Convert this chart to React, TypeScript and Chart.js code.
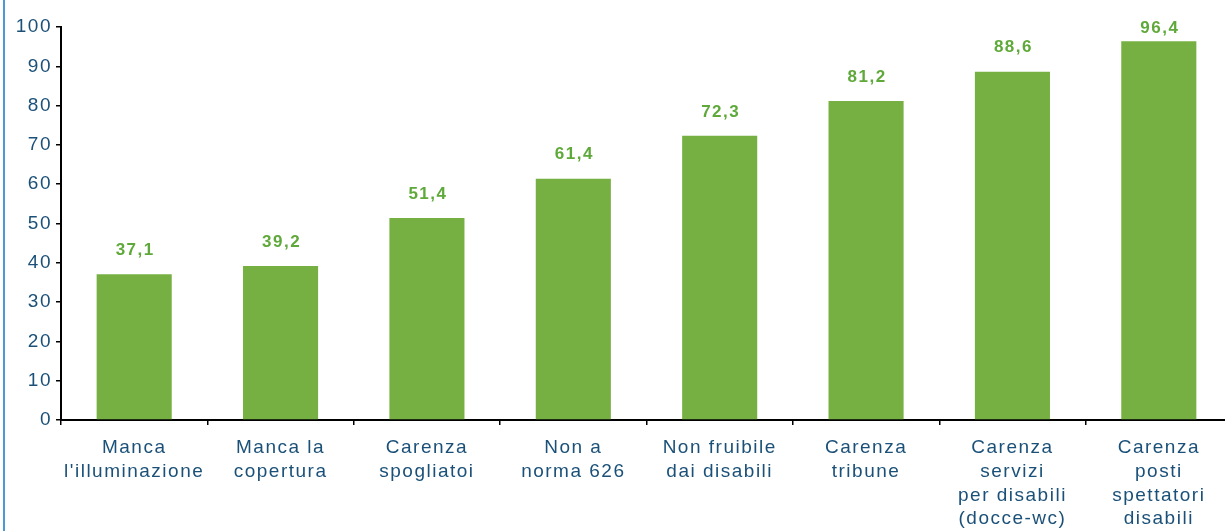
import React, { useEffect, useRef } from "react";
import { Chart, registerables } from "chart.js";

Chart.register(...registerables);

const categories: string[][] = [
  ["Manca", "l'illuminazione"],
  ["Manca la", "copertura"],
  ["Carenza", "spogliatoi"],
  ["Non a", "norma 626"],
  ["Non fruibile", "dai disabili"],
  ["Carenza", "tribune"],
  ["Carenza", "servizi", "per disabili", "(docce-wc)"],
  ["Carenza", "posti", "spettatori", "disabili"],
];
const values: number[] = [37.1, 39.2, 51.4, 61.4, 72.3, 81.2, 88.6, 96.4];
const yTicks: number[] = [0, 10, 20, 30, 40, 50, 60, 70, 80, 90, 100];

const BAR = "#76b043";
const LABEL_GREEN = "#5fa93a";
const TEXT = "#1b5179";
const FONT = "'Liberation Sans', Arial, sans-serif";

const spacingPlugin = {
  id: "spacing",
  beforeDraw(chart: any) {
    chart.ctx.letterSpacing = "1.5px";
  },
};

const valueLabels = {
  id: "valueLabels",
  afterDatasetsDraw(chart: any) {
    const ctx = chart.ctx;
    const meta = chart.getDatasetMeta(0);
    ctx.save();
    ctx.letterSpacing = "1.5px";
    ctx.font = `bold 17px ${FONT}`;
    ctx.fillStyle = LABEL_GREEN;
    ctx.textAlign = "center";
    ctx.textBaseline = "middle";
    meta.data.forEach((bar: any, i: number) => {
      const v = values[i];
      const y = Math.max(28, bar.y - 24);
      ctx.fillText(v.toFixed(1).replace(".", ","), bar.x + 1, y);
    });
    ctx.restore();
  },
};

export default function App() {
  const ref = useRef<HTMLCanvasElement | null>(null);
  useEffect(() => {
    document.body.style.margin = "0";
    const canvas = ref.current!;
    const chart = new Chart(canvas, {
      type: "bar",
      data: {
        labels: categories,
        datasets: [
          {
            data: values,
            backgroundColor: BAR,
            borderWidth: 0,
            barPercentage: 0.513,
            categoryPercentage: 1,
          },
        ],
      },
      options: {
        responsive: false,
        animation: false,
        layout: { padding: { top: 27, right: 0, left: 0, bottom: 0 } },
        plugins: { legend: { display: false }, tooltip: { enabled: false } },
        scales: {
          x: {
            afterFit(scale: any) {
              scale.height = 545 - 420;
            },
            border: { color: "#000", width: 2 },
            grid: {
              drawOnChartArea: false,
              color: "#000",
              lineWidth: 1.5,
              tickLength: 5,
            },
            ticks: {
              color: TEXT,
              font: { family: FONT, size: 19, lineHeight: 1.25 },
              padding: 11,
              maxRotation: 0,
              autoSkip: false,
            },
          },
          y: {
            min: 0,
            max: 100,
            afterFit(scale: any) {
              scale.width = 61;
            },
            afterBuildTicks(scale: any) {
              scale.ticks = yTicks.map((v) => ({ value: v }));
            },
            border: { color: "#000", width: 2 },
            grid: {
              drawOnChartArea: false,
              color: "#000",
              lineWidth: 1.5,
              tickLength: 5,
            },
            ticks: {
              color: TEXT,
              font: { family: FONT, size: 19 },
              padding: 4,
            },
          },
        },
      },
      plugins: [spacingPlugin, valueLabels],
    });
    return () => chart.destroy();
  }, []);
  return (
    <div
      style={{
        position: "relative",
        width: 1225,
        height: 531,
        overflow: "hidden",
        background: "#fff",
      }}
    >
      <canvas ref={ref} width={1232} height={545} style={{ display: "block" }} />
      <div
        style={{
          position: "absolute",
          left: 3,
          top: 0,
          width: 2,
          height: 531,
          background: "#4a9ad8",
        }}
      />
    </div>
  );
}
